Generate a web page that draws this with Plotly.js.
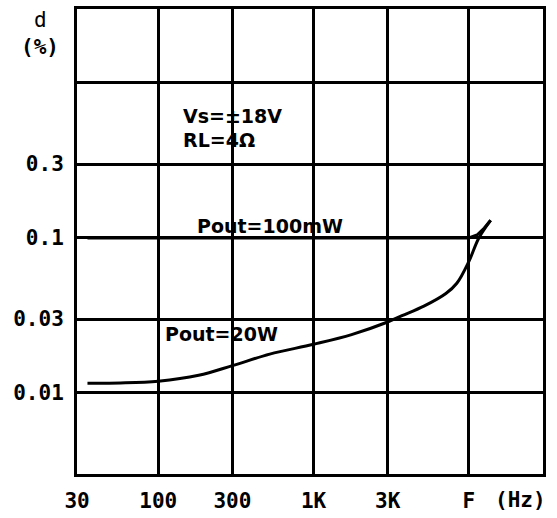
<!DOCTYPE html>
<html>
<head>
<meta charset="utf-8">
<script src="https://cdn.plot.ly/plotly-3.0.1.min.js"></script>
<style>html,body{margin:0;padding:0;background:#fff;}#chart{width:557px;height:518px;}</style>
</head>
<body>
<div id="chart"></div>
<script>
// Frequency (Hz) and distortion d (%)
const freq20W = [35, 57, 100, 182, 300, 522, 1000, 1757, 3000, 3707, 5130, 7110, 8360, 10000, 11590, 13800];
const d20W    = [0.01156, 0.0116, 0.0119, 0.013, 0.015, 0.0178, 0.0206, 0.0238, 0.0287, 0.0315, 0.0363, 0.0438, 0.051, 0.0706, 0.1, 0.13];
const freq100mW = [35, 1000, 10000, 11280, 12570, 13800];
const d100mW    = [0.1, 0.1, 0.1, 0.1045, 0.116, 0.13];

const xTickVals = [30, 100, 300, 1000, 3000, 10000, 30000];
const xTickText = ["30", "100", "300", "1K", "3K", "F", ""];
const yTickVals = [0.003, 0.01, 0.03, 0.1, 0.3, 1, 3];
const yTickText = ["", "0.01", "0.03", "0.1", "0.3", "", ""];

const labelFont = {family: "DejaVu Sans Mono", size: 21, color: "#000", weight: "bold"};
const textFont = {family: "DejaVu Sans", size: 19, color: "#000", weight: "bold"};

const traces = [
  {x: freq100mW, y: d100mW, mode: "lines", line: {color: "#000", width: 3, shape: "linear"}, hoverinfo: "skip"},
  {x: freq20W, y: d20W, mode: "lines", line: {color: "#000", width: 3, shape: "spline", smoothing: 1}, hoverinfo: "skip"}
];

const layout = {
  width: 557, height: 518,
  margin: {l: 77, r: 14, t: 9, b: 44},
  paper_bgcolor: "#fff", plot_bgcolor: "#fff",
  showlegend: false,
  xaxis: {
    type: "log",
    range: [Math.log10(30) - 0.0005, Math.log10(30000)],
    tickmode: "array", tickvals: xTickVals, ticktext: xTickText,
    showgrid: true, gridcolor: "#000", gridwidth: 3,
    showline: true, linecolor: "#000", linewidth: 3, mirror: true,
    ticks: "", tickfont: labelFont, ticklabelstandoff: 6, zeroline: false
  },
  yaxis: {
    type: "log",
    range: [Math.log10(0.003), Math.log10(3)],
    tickmode: "array", tickvals: yTickVals, ticktext: yTickText,
    showgrid: true, gridcolor: "#000", gridwidth: 3,
    showline: true, linecolor: "#000", linewidth: 3, mirror: true,
    ticks: "", tickfont: labelFont, ticklabelstandoff: 6, zeroline: false
  },
  annotations: [
    {text: "d", xref: "paper", yref: "paper", x: -0.079, y: 0.976, showarrow: false, font: {family: "DejaVu Sans Mono", size: 21, color: "#000"}, xanchor: "center", yanchor: "middle"},
    {text: "(%)", xref: "paper", yref: "paper", x: -0.079, y: 0.918, showarrow: false, font: labelFont, xanchor: "center", yanchor: "middle"},
    {text: "(Hz)", xref: "paper", yref: "paper", x: 0.951, y: -0.056, showarrow: false, font: labelFont, xanchor: "center", yanchor: "middle"},
    {text: "Vs=±18V", xref: "paper", yref: "paper", x: 0.223, y: 0.77, showarrow: false, font: textFont, xanchor: "left", yanchor: "middle"},
    {text: "RL=4Ω", xref: "paper", yref: "paper", x: 0.223, y: 0.718, showarrow: false, font: textFont, xanchor: "left", yanchor: "middle"},
    {text: "Pout=100mW", xref: "paper", yref: "paper", x: 0.253, y: 0.533, showarrow: false, font: textFont, xanchor: "left", yanchor: "middle"},
    {text: "Pout=20W", xref: "paper", yref: "paper", x: 0.185, y: 0.301, showarrow: false, font: textFont, xanchor: "left", yanchor: "middle"}
  ]
};

Plotly.newPlot("chart", traces, layout, {staticPlot: true, displayModeBar: false});
</script>
</body>
</html>
